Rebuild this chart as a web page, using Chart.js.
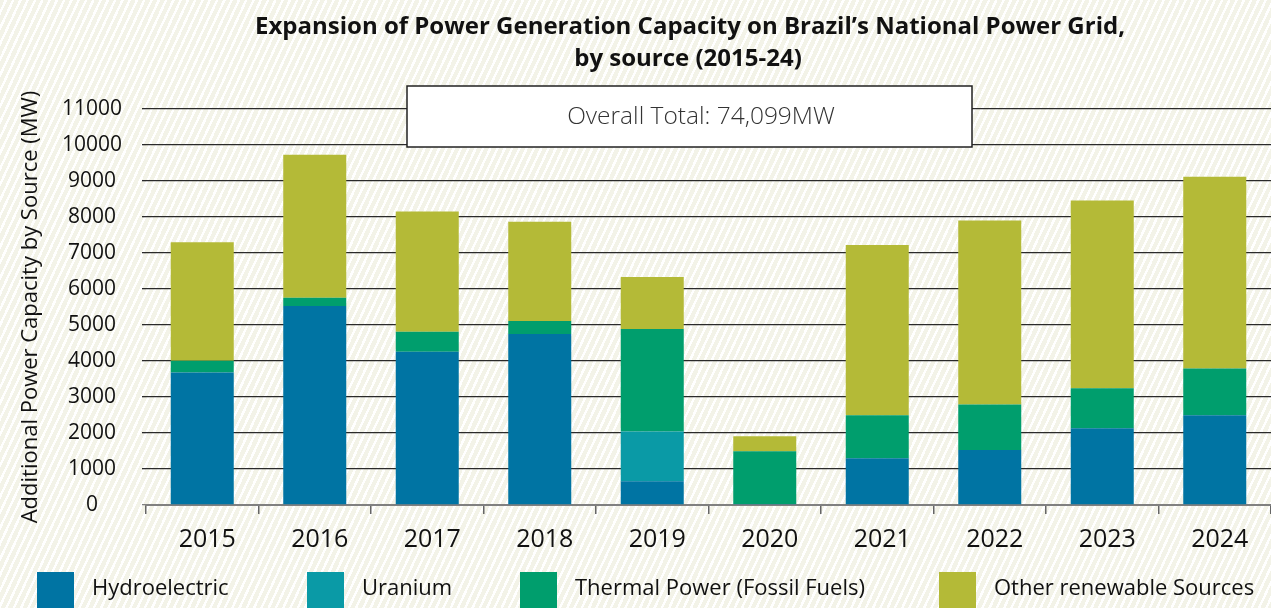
<!DOCTYPE html>
<html>
<head>
<meta charset="utf-8">
<script src="https://cdn.jsdelivr.net/npm/chart.js@4.4.1/dist/chart.umd.min.js"></script>
<style>
  html, body { margin: 0; padding: 0; }
  body {
    width: 1271px; height: 608px; overflow: hidden;
    background: repeating-linear-gradient(115deg, #f3f3e8 0px, #f3f3e8 4.2px, #ffffff 4.2px, #ffffff 6.6px);
  }
  #wrap { position: relative; width: 1271px; height: 608px; }
  canvas { display: block; }
</style>
</head>
<body>
<div id="wrap"><canvas id="chart" width="1271" height="608"></canvas></div>
<script>
var years = ['2015', '2016', '2017', '2018', '2019', '2020', '2021', '2022', '2023', '2024'];
var hydroelectric = [3680, 5530, 4260, 4750, 660, 30, 1300, 1530, 2130, 2490];
var uranium = [0, 0, 0, 0, 1380, 0, 0, 0, 0, 0];
var thermal = [330, 230, 550, 360, 2850, 1460, 1190, 1260, 1110, 1300];
var otherRenewable = [3290, 3970, 3340, 2760, 1440, 420, 4730, 5110, 5220, 5330];
var overallTotal = 'Overall Total: 74,099MW';
var titleLines = ['Expansion of Power Generation Capacity on Brazil\u2019s National Power Grid,', 'by source (2015-24)'];

var FONT = '"Open Sans", "Noto Sans", sans-serif';
var legendX = [37, 307, 520, 939];

// title, total box and legend drawn by hand
var extrasPlugin = {
    id: 'extras',
    afterDraw: function(chart) {
        var ctx = chart.ctx;
        ctx.save();

        // title
        ctx.fillStyle = '#111';
        ctx.textAlign = 'center';
        ctx.textBaseline = 'middle';
        ctx.font = 'bold 24px ' + FONT;
        ctx.fillText(titleLines[0], 690, 27);
        ctx.fillText(titleLines[1], 688, 59);

        // total box
        ctx.fillStyle = '#fff';
        ctx.fillRect(407, 86, 565, 61);
        ctx.strokeStyle = '#222';
        ctx.lineWidth = 1.5;
        ctx.strokeRect(407, 86, 565, 61);
        ctx.fillStyle = '#333';
        ctx.font = '300 24.5px ' + FONT;
        ctx.fillText(overallTotal, 701, 117);

        // legend
        ctx.textAlign = 'left';
        ctx.font = '22px ' + FONT;
        chart.data.datasets.forEach(function(ds, i) {
            var x = legendX[i];
            ctx.fillStyle = ds.backgroundColor;
            ctx.fillRect(x, 572, 37, 40);
            ctx.fillStyle = '#111';
            ctx.fillText(ds.label, x + 37 + 18, 589);
        });
        ctx.restore();
    }
};

var ctx = document.getElementById('chart').getContext('2d');
var chart = new Chart(ctx, {
    type: 'bar',
    data: {
        labels: years,
        datasets: [
            { label: 'Hydroelectric', data: hydroelectric, backgroundColor: '#0074a3' },
            { label: 'Uranium', data: uranium, backgroundColor: '#0a9aa6' },
            { label: 'Thermal Power (Fossil Fuels)', data: thermal, backgroundColor: '#009e6d' },
            { label: 'Other renewable Sources', data: otherRenewable, backgroundColor: '#b4ba37' }
        ]
    },
    options: {
        responsive: false,
        animation: false,
        devicePixelRatio: 1,
        layout: { padding: { top: 109, right: 0, bottom: 48, left: 0 } },
        datasets: { bar: { categoryPercentage: 1, barPercentage: 0.56, borderWidth: 0 } },
        plugins: {
            legend: { display: false },
            title: { display: false },
            tooltip: { enabled: false }
        },
        scales: {
            x: {
                stacked: true,
                afterFit: function(scale) { scale.height = 55; },
                grid: { drawOnChartArea: false, drawTicks: true, tickLength: 9, color: '#666', lineWidth: 1.5, offset: true },
                border: { display: true, color: '#808080', width: 2 },
                ticks: { color: '#111', padding: 11, labelOffset: 5, font: { family: FONT, size: 25 } }
            },
            y: {
                stacked: true,
                min: 0,
                max: 11000,
                afterFit: function(scale) { scale.width = 146; },
                grid: {
                    color: function(c) { return c.tick && c.tick.value === 0 ? '#808080' : '#2a2a2a'; },
                    lineWidth: 1.3,
                    tickLength: 4
                },
                border: { display: false },
                ticks: {
                    stepSize: 1000,
                    color: '#111',
                    padding: 20,
                    crossAlign: 'center',
                    font: { family: FONT, size: 21 },
                    callback: function(v) { return String(v); }
                },
                title: {
                    display: true,
                    text: 'Additional Power Capacity by Source (MW)',
                    color: '#111',
                    font: { family: FONT, size: 22 },
                    padding: { top: 18, bottom: 0 }
                }
            }
        }
    },
    plugins: [extrasPlugin]
});
</script>
</body>
</html>
